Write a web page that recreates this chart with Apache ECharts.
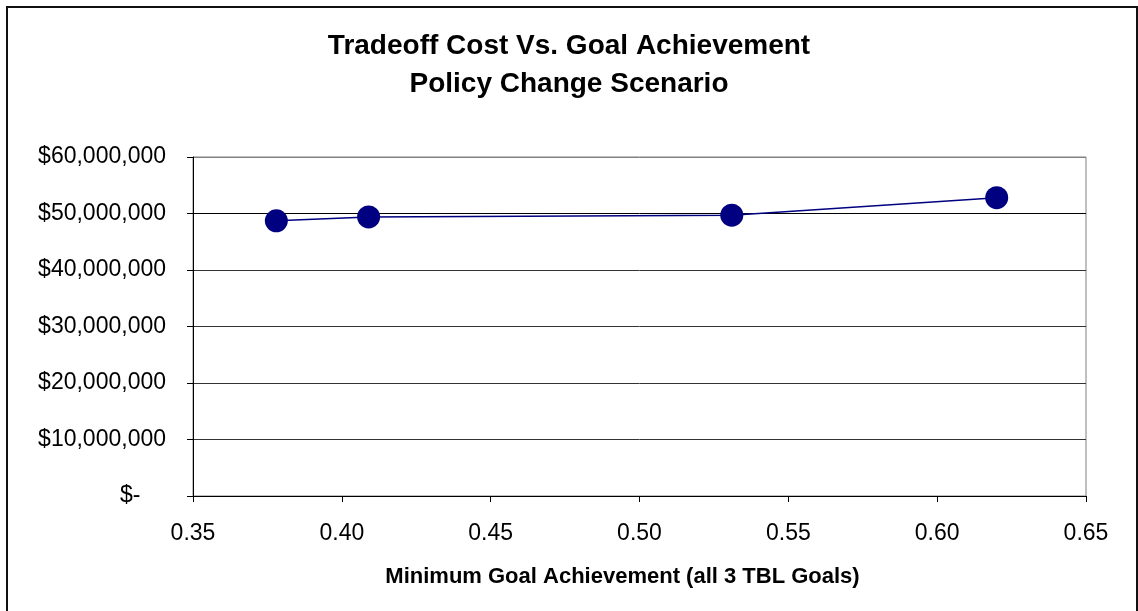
<!DOCTYPE html>
<html>
<head>
<meta charset="utf-8">
<script src="https://cdn.jsdelivr.net/npm/echarts@6/dist/echarts.min.js"></script>
<style>
  html, body { margin: 0; padding: 0; background: #fff; }
  #chart { width: 1138px; height: 611px; }
</style>
</head>
<body>
<div id="chart"></div>
<script>
// data
const goalAchievement = [0.378, 0.409, 0.531, 0.620]
const tradeoffCost = [48700000, 49400000, 49700000, 52800000]
const xTicks = { min: 0.35, max: 0.65, step: 0.05 }
const yTicks = { min: 0, max: 60000000, step: 10000000 }

const points = goalAchievement.map((x, i) => [x, tradeoffCost[i]])
const font = 'Liberation Sans, Arial, sans-serif'

let myChart = echarts.init(document.getElementById('chart'))

const options = {
    backgroundColor: '#fff',
    animation: false,
    title: {
        text: 'Tradeoff Cost Vs. Goal Achievement\nPolicy Change Scenario',
        left: 'center',
        top: 22,
        textStyle: {
            fontFamily: font,
            fontSize: 28,
            fontWeight: 'bold',
            color: '#000',
            lineHeight: 38
        }
    },
    grid: {
        left: 193,
        right: 52,
        top: 157,
        bottom: 115,
        show: true,
        borderColor: '#808080',
        borderWidth: 1
    },
    xAxis: {
        type: 'value',
        min: xTicks.min,
        max: xTicks.max,
        interval: xTicks.step,
        name: 'Minimum Goal Achievement (all 3 TBL Goals)',
        nameLocation: 'middle',
        nameGap: 70,
        nameTextStyle: {
            fontFamily: font, fontSize: 22, fontWeight: 'bold', color: '#000',
            padding: [0, 34, 0, 0]
        },
        axisLine: { onZero: false, lineStyle: { color: '#000', width: 1 } },
        axisTick: { show: true, length: 6, lineStyle: { color: '#000' } },
        axisLabel: {
            margin: 26,
            fontFamily: font,
            fontSize: 23,
            color: '#000',
            formatter: v => v.toFixed(2)
        },
        splitLine: { show: false }
    },
    yAxis: {
        type: 'value',
        min: yTicks.min,
        max: yTicks.max,
        interval: yTicks.step,
        axisLine: { show: true, lineStyle: { color: '#000', width: 1 } },
        axisTick: { show: true, length: 6, lineStyle: { color: '#000' } },
        axisLabel: {
            margin: 27,
            fontFamily: font,
            fontSize: 23,
            color: '#000',
            formatter: v => v === 0 ? '$-    ' : '$' + v.toLocaleString('en-US')
        },
        splitLine: {
            show: true,
            lineStyle: { color: ['#000', '#333', '#333', '#333', '#333', '#000', '#808080'], width: 1 }
        }
    },
    graphic: [{
        type: 'rect',
        shape: { x: 7, y: 7, width: 1130, height: 700 },
        style: { fill: 'none', stroke: '#111', lineWidth: 2 },
        silent: true
    }],
    series: [{
        type: 'line',
        data: points,
        symbol: 'circle',
        symbolSize: 23,
        itemStyle: { color: '#000080' },
        lineStyle: { color: '#000080', width: 1.5 }
    }]
}
myChart.setOption(options)
</script>
</body>
</html>
